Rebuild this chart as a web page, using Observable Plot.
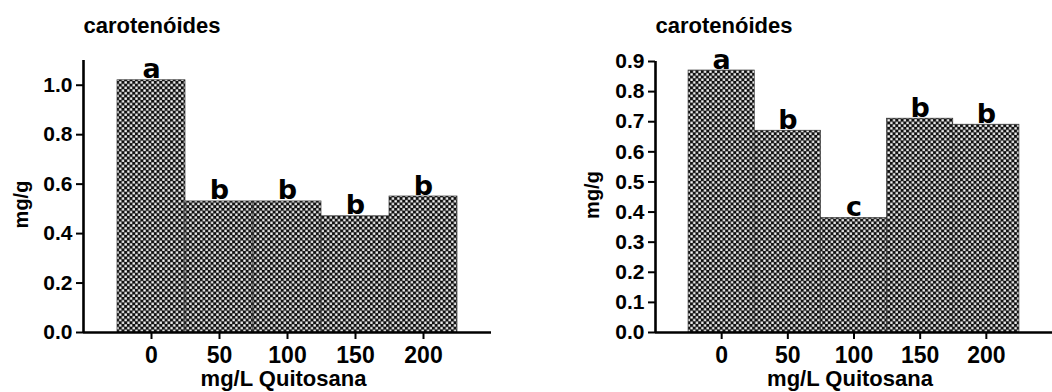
<!DOCTYPE html>
<html><head><meta charset="utf-8">
<script src="https://cdn.jsdelivr.net/npm/d3@7"></script>
<script src="https://cdn.jsdelivr.net/npm/@observablehq/plot@0.6"></script>
<style>
body{margin:0;background:#fff;}
#wrap{position:relative;width:1052px;height:392px;overflow:hidden;background:#fff;}
#left{position:absolute;left:0;top:0;}
#right{position:absolute;left:520px;top:0;}
</style></head><body>
<div id="wrap"><div id="left"></div><div id="right"></div></div>
<script>
const doses = [0, 50, 100, 150, 200];
const xTickLabels = ["0", "50", "100", "150", "200"];
const leftValues = [1.02, 0.53, 0.53, 0.47, 0.55];
const leftLetters = ["a", "b", "b", "b", "b"];
const rightValues = [0.87, 0.67, 0.38, 0.71, 0.69];
const rightLetters = ["a", "b", "c", "b", "b"];
const leftYTicks = [0, 0.2, 0.4, 0.6, 0.8, 1.0];
const rightYTicks = [0, 0.1, 0.2, 0.3, 0.4, 0.5, 0.6, 0.7, 0.8, 0.9];
const chartTitle = "carotenóides";
const xLabel = "mg/L Quitosana";
const yLabel = "mg/g";
const xDomain = [-50, 250];
const halfWidth = 25;

function makeChart({values, letters, yTicks, yDomain, width, marginLeft, marginTop, marginRight, patternId, yLabelDx, yLabelDy}) {
  const data = doses.map((d, i) => ({dose: d, value: values[i], letter: letters[i]}));
  const height = 392, marginBottom = 60;
  const svg = Plot.plot({
    width, height, marginLeft, marginTop, marginRight, marginBottom,
    style: {fontFamily: "'Liberation Sans', Arial, sans-serif", fontSize: "21px", fontWeight: "bold", color: "#000", background: "transparent", overflow: "visible"},
    x: {type: "linear", domain: xDomain},
    y: {domain: yDomain},
    marks: [
      Plot.rect(data, {x1: d => d.dose - halfWidth, x2: d => d.dose + halfWidth, y1: 0, y2: "value", fill: `url(#${patternId})`, stroke: "#333", strokeWidth: 0.7}),
      Plot.text(data, {x: "dose", y: "value", text: "letter", lineAnchor: "bottom", dy: -2, fontSize: 27, fontWeight: "bold", fontFamily: "'DejaVu Sans', Verdana, sans-serif", fill: "#000"}),
      Plot.ruleY([0], {stroke: "#000", strokeWidth: 2.6}),
      Plot.ruleX([xDomain[0]], {stroke: "#000", strokeWidth: 2.6}),
      Plot.axisY({ticks: yTicks, tickFormat: d => d.toFixed(1), tickSize: 7, tickPadding: 4, strokeWidth: 2, label: null, fontSize: 21}),
      Plot.axisX({ticks: doses, tickFormat: d => xTickLabels[doses.indexOf(d)], tickSize: 7, tickPadding: 7, strokeWidth: 2, label: null, fontSize: 23}),
      Plot.text([xLabel], {frameAnchor: "bottom", textAnchor: "middle", lineAnchor: "middle", dy: 46, dx: -4, fontSize: 22}),
      Plot.text([yLabel], {frameAnchor: "left", rotate: -90, dx: yLabelDx, dy: yLabelDy, textAnchor: "middle", lineAnchor: "middle", fontSize: 20}),
      Plot.text([chartTitle], {frameAnchor: "top-left", textAnchor: "start", lineAnchor: "bottom", dy: -(marginTop - 32), fontSize: 22})
    ]
  });
  d3.select(svg).insert("defs", ":first-child").html(
    `<pattern id="${patternId}" patternUnits="userSpaceOnUse" width="5.4" height="5.4">
       <rect width="5.4" height="5.4" fill="#111"/>
       <rect x="0.3" y="0.3" width="2.3" height="2.3" fill="#fff"/>
       <rect x="3" y="3" width="2.3" height="2.3" fill="#fff"/>
     </pattern>`);
  return svg;
}

document.getElementById("left").appendChild(makeChart({
  values: leftValues, letters: leftLetters, yTicks: leftYTicks, yDomain: [0, 1.1],
  width: 520, marginLeft: 83, marginTop: 60, marginRight: 29, patternId: "chkL", yLabelDx: -62, yLabelDy: 8
}));
document.getElementById("right").appendChild(makeChart({
  values: rightValues, letters: rightLetters, yTicks: rightYTicks, yDomain: [0, 0.9],
  width: 532, marginLeft: 135, marginTop: 61, marginRight: 0, patternId: "chkR", yLabelDx: -63, yLabelDy: -2
}));
</script>
</body></html>
